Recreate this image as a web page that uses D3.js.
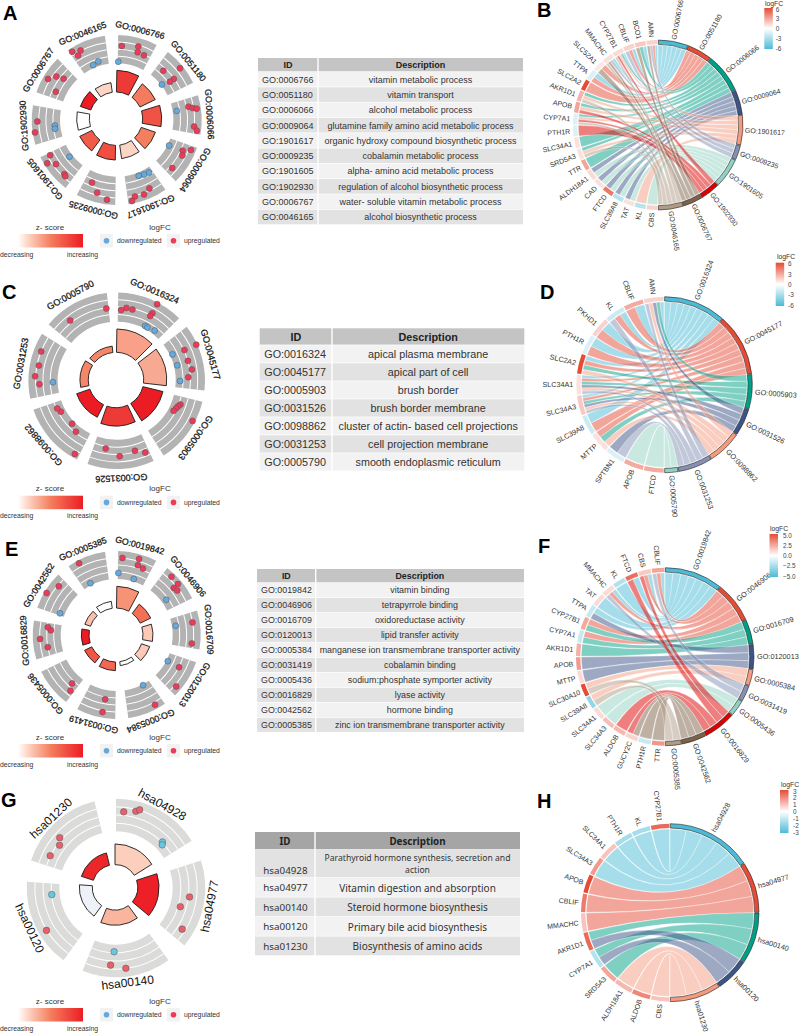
<!DOCTYPE html>
<html><head><meta charset="utf-8">
<script src="https://cdn.jsdelivr.net/npm/d3@7"></script>
<style>html,body{margin:0;padding:0;background:#fff}svg{display:block}text{font-family:"Liberation Sans",Arial,sans-serif}</style>
</head><body><div id="c"></div>
<script>
// ---------- DATA ----------
const npgPalette=["#4DBBD5","#E64B35","#00A087","#3C5488","#F39B7F","#8491B4","#91D1C2","#DC0000","#7E6148","#B09C85"];

// Circle panels: terms, bar height value, z-score, points [position in term 0-1, ring value, downregulated flag]
const circleATerms=["GO:0006766","GO:0051180","GO:0006066","GO:0009064","GO:1901617","GO:0009235","GO:1901605","GO:1902930","GO:0006767","GO:0046165"];
const circleABars=[65,51,57,45,41,44,41,38,33,29];
const circleAZ=[.85,.52,.72,.5,.15,.75,.68,0,1,.15];
const circleAPoints=[
 [[.11,1.4],[.57,2.4],[.6,0],[.81,-.3],[.02,-5.3,1]],
 [[.51,4.6],[.24,-1.3],[.64,-.2],[.64,-2.2],[.55,-5.7,1]],
 [[.24,.9],[.3,2.6],[.33,4.2],[.31,-4.3,1],[.81,2.9],[.91,4.2]],
 [[.26,-5.3,1],[.11,3.9],[.22,.8],[.35,1.6],[.81,1.1]],
 [[.13,-3.9,1],[.31,-4.2,1],[.5,-4.6,1],[.35,2.1],[.55,3.6],[.8,3.3],[.9,4.9]],
 [[.22,4],[.52,1.9],[.76,-1.5]],
 [[.56,-4.7,1],[.26,1.9],[.2,2.3],[.63,1.8],[.78,4.7],[.93,1.9]],
 [[.44,-3.7,1],[.33,-3.6,1],[.31,5],[.59,3.6]],
 [[.22,-1.6],[.44,3.9],[.62,1.5],[.7,-1.5]],
 [[.44,-4.7,1],[.65,-4,1],[.07,4.5],[.15,1.8],[.28,3.2]]];

const circleCTerms=["GO:0016324","GO:0045177","GO:0005903","GO:0031526","GO:0098862","GO:0031253","GO:0005790"];
const circleCBars=[70,69,62,55,42,25,19];
const circleCZ=[.36,.33,1,.85,1,.47,.47];
const circleCPoints=[
 [[.61,5.3],[.06,-1.2],[.15,-.1],[.26,-.3],[.61,1.1],[.6,-.3],[.6,-4.9,1],[.66,-5,1],[.82,-4.4,1]],
 [[.3,5.6],[.3,.3],[.28,-4.9,1],[.5,.1],[.53,-4.6,1],[.66,1],[.79,-.8],[.86,-4.2,1]],
 [[.15,-2.3],[.2,-2.9],[.25,-3.3],[.32,-3.8],[.32,5]],
 [[.07,1.5],[.23,-.5],[.51,.8],[.77,-2]],
 [[.07,4.4],[.27,-3.4],[.44,-4.8],[.78,-4],[.87,-3.3]],
 [[.21,1.5],[.34,3.3],[.24,-4,1],[.52,2.3],[.75,3]],
 [[.29,1],[.96,-.3]]];

const circleETerms=["GO:0019842","GO:0046906","GO:0016709","GO:0120013","GO:0005384","GO:0031419","GO:0005436","GO:0016829","GO:0042562","GO:0005385"];
const circleEBars=[65,35,30,26,12,26,24,23,18,21];
const circleEZ=[.42,.58,.2,.2,0,.62,.7,1,.24,0];
const circleEPoints=[
 [[.12,3.1],[.57,4],[.59,1.2],[.76,.6],[.02,-3.4,1],[.59,-4.9,1]],
 [[.23,4.3],[.49,4.1],[.5,1.7],[.62,2.2],[.65,-3.9,1]],
 [[.28,2.9],[.3,-4.4,1],[.87,2.4]],
 [[.3,-5.4,1],[.31,.1],[.81,3.7]],
 [[.27,-5.7,1],[.23,4.1]],
 [[.34,-2],[.35,3.6]],
 [[.21,-1.8],[.1,1]],
 [[.26,0],[.52,2.9],[.78,-1.7],[.87,-.3]],
 [[.07,-4,1],[.44,5],[.78,2.4]],
 [[.3,-5.1,1],[.27,4.7]]];

const circleGTerms=["hsa04928","hsa04977","hsa00140","hsa00120","hsa01230"];
const circleGBars=[62,64,46,39,38];
const circleGZ=[.18,.98,.28,-.07,.95];
const circleGPoints=[
 [[.1,1.3],[.25,2.3],[.29,3.2],[.78,-2.8,1],[.81,-3.6,1]],
 [[.43,.4],[.59,-2.2],[.86,1.8]],
 [[.5,2.9],[.69,1.6],[.65,-3.4,1]],
 [[.39,3.1],[.83,-3.1,1]],
 [[.14,.1],[.33,-.8],[.41,.9]]];

// Tables
const tableADesc=["vitamin metabolic process","vitamin transport","alcohol metabolic process","glutamine family amino acid metabolic process","organic hydroxy compound biosynthetic process","cobalamin metabolic process","alpha- amino acid metabolic process","regulation of alcohol biosynthetic process","water- soluble vitamin metabolic process","alcohol biosynthetic process"];
const tableCDesc=["apical plasma membrane","apical part of cell","brush border","brush border membrane","cluster of actin- based cell projections","cell projection membrane","smooth endoplasmic reticulum"];
const tableEDesc=["vitamin binding","tetrapyrrole binding","oxidoreductase activity","lipid transfer activity","manganese ion transmembrane transporter activity","cobalamin binding","sodium:phosphate symporter activity","lyase activity","hormone binding","zinc ion transmembrane transporter activity"];
const tableGDesc=[["Parathyroid hormone synthesis, secretion and","action"],["Vitamin digestion and absorption"],["Steroid hormone biosynthesis"],["Primary bile acid biosynthesis"],["Biosynthesis of amino acids"]];

// Chord panels
const chordBGenes=["AMN","BCO1","CBLIF","CYP27B1","MMACHC","SLC52A1","TTPA","SLC2A2","AKR1D1","APOB","CYP7A1","PTH1R","SLC34A1","SRD5A3","TTR","ALDH18A1","CAD","FTCD","SLC39A8","TAT","KL","CBS"];
const chordBFC=[1.5,1.8,1.5,1.2,1,.8,-1.2,6,2.5,3,-1.2,-1.2,1,1,3,1.2,1,4.5,-2.5,1,-2.5,1.5];
const chordBLinks=[
 ["AMN","BCO1","CBLIF","CYP27B1","MMACHC","TTPA"],
 ["AMN","CBLIF","SLC52A1","TTPA","SLC2A2"],
 ["BCO1","CYP27B1","AKR1D1","APOB","CYP7A1","SLC34A1","SRD5A3","TTR"],
 ["ALDH18A1","CAD","FTCD","SLC39A8","TAT"],
 ["CYP27B1","AKR1D1","APOB","CYP7A1","SRD5A3","KL"],
 ["AMN","CBLIF","MMACHC"],
 ["ALDH18A1","CAD","FTCD","SLC39A8","TAT","CBS"],
 ["CYP27B1","APOB","CYP7A1","PTH1R"],
 ["AMN","BCO1","MMACHC","SLC52A1"],
 ["CYP27B1","MMACHC","AKR1D1","CYP7A1","SRD5A3"]];

const chordDGenes=["AMN","CBLIF","KL","PKHD1","PTH1R","SLC2A2","SLC34A1","SLC34A3","SLC39A8","MTTP","SPTBN1","APOB","FTCD"];
const chordDFC=[1.5,2.8,-1.8,1.5,-1.2,6,1,1.8,-1.8,1,-1.2,2.8,2.8];
const chordDLinks=[
 ["AMN","CBLIF","KL","PKHD1","PTH1R","SLC2A2","SLC34A1","SLC34A3","SLC39A8"],
 ["CBLIF","KL","PKHD1","PTH1R","SLC2A2","SLC34A1","SLC34A3","SLC39A8","MTTP"],
 ["AMN","SLC2A2","SLC34A1","SLC34A3","MTTP"],
 ["AMN","SLC34A1","SLC34A3","SPTBN1"],
 ["AMN","SLC2A2","SLC34A1","SLC34A3","MTTP"],
 ["AMN","KL","SLC34A1","SLC34A3","SPTBN1"],
 ["APOB","FTCD"]];

const chordFGenes=["CBLIF","CBS","FTCD","KL","MMACHC","TAT","TTPA","CYP27B1","CYP7A1","AKR1D1","APOB","MTTP","SLC30A10","SLC39A8","SLC34A1","SLC34A3","ALDOB","GUCY2C","PTH1R","TTR"];
const chordFFC=[2.5,1.5,4,-2.2,1,1,-1.6,2.4,-1.6,2.2,2.8,1,5,-3,1,1.8,2,1.2,-1.6,2.9];
const chordFLinks=[
 ["CBLIF","CBS","FTCD","KL","MMACHC","TAT","TTPA"],
 ["CBLIF","CBS","MMACHC","CYP27B1","CYP7A1"],
 ["CYP27B1","CYP7A1","AKR1D1"],
 ["TTPA","APOB","MTTP"],
 ["SLC30A10","SLC39A8"],
 ["CBLIF","MMACHC"],
 ["SLC34A1","SLC34A3"],
 ["CBS","FTCD","ALDOB","GUCY2C"],
 ["GUCY2C","PTH1R","TTR"],
 ["SLC30A10","SLC39A8"]];

const chordHGenes=["CYP27B1","KL","PTH1R","SLC34A1","SLC34A3","APOB","CBLIF","MMACHC","AKR1D1","CYP7A1","SRD5A3","ALDH18A1","ALDOB","CBS"];
const chordHFC=[2.5,-1.5,-1.5,1,1.7,3,2.2,1,2.5,-1.3,1.5,1.2,2,1];
const chordHLinks=[
 ["CYP27B1","KL","PTH1R","SLC34A1","SLC34A3"],
 ["APOB","CBLIF","MMACHC"],
 ["AKR1D1","CYP7A1","SRD5A3"],
 ["AKR1D1","CYP7A1"],
 ["ALDH18A1","ALDOB","CBS"]];

const barTicksB=[6,3,0,-3,-6];
const barTicksF=[5,2.5,0,-2.5,-5];
const barTicksH=[3,2,1,0,-1,-2,-3];

// ---------- DRAW ----------
const W=800,H=1033,rad=Math.PI/180;
const svg=d3.select("#c").append("svg").attr("width",W).attr("height",H);
const defs=svg.append("defs");

const zStops=[[-.1,"#e6ebf3"],[0,"#ffffff"],[.15,"#fdd5c5"],[.5,"#f47f5f"],[1,"#ec1c24"]];
const zColor=d3.scaleLinear().domain(zStops.map(d=>d[0])).range(zStops.map(d=>d[1]));
const zg=defs.append("linearGradient").attr("id","zgrad");
zStops.slice(1).forEach(d=>zg.append("stop").attr("offset",d[0]).attr("stop-color",d[1]));
const cg=defs.append("linearGradient").attr("id","fcgrad").attr("x1",0).attr("x2",0).attr("y1",0).attr("y2",1);
[[0,"#E64B35"],[.5,"#ffffff"],[1,"#4DBBD5"]].forEach(d=>cg.append("stop").attr("offset",d[0]).attr("stop-color",d[1]));

const arc=d3.arc();
function goCircle(o){
  const g=svg.append("g").attr("transform",`translate(${o.cx},${o.cy})`);
  const n=o.terms.length, step=360/n;
  const r=d3.scaleLinear().domain([-6,6]).range([o.rIn,o.rOut]);
  const bar=d3.scaleLinear().domain([0,65]).range([o.hole,o.hole+65/3]);
  const startOf=i=>step*i+o.start, endOf=i=>startOf(i)+o.width;
  o.terms.forEach((t,i)=>{
    const s=startOf(i)*rad,e=endOf(i)*rad;
    g.append("path").attr("d",arc({innerRadius:o.rIn,outerRadius:o.rOut,startAngle:s,endAngle:e})).attr("fill",o.grey);
    [-3,0,3].forEach(k=>g.append("path").attr("d",arc({innerRadius:r(k)-.5,outerRadius:r(k)+.5,startAngle:s,endAngle:e})).attr("fill","#fff"));
    g.append("path").attr("transform",`translate(${o.bx},${o.by})`)
     .attr("d",arc({innerRadius:o.hole,outerRadius:bar(o.bars[i]),startAngle:s,endAngle:e}))
     .attr("fill",zColor(o.z[i])).attr("stroke","#1a1a1a").attr("stroke-width",.9);
    const mid=(startOf(i)+endOf(i))/2;
    let rot=mid;
    if(o.flip&&mid>90&&mid<270) rot=mid-180;
    const a=mid*rad, lr=o.rOut+o.labelGap;
    g.append("text").text(t).attr("transform",`translate(${lr*Math.sin(a)},${-lr*Math.cos(a)}) rotate(${rot})`)
     .attr("text-anchor","middle").attr("dominant-baseline","central")
     .attr("font-size",o.labelSize).attr("fill","#111").attr("stroke",o.flip?"none":"#111").attr("stroke-width",.25);
    const pos=d3.scaleLinear().domain([0,1]).range([startOf(i),endOf(i)]);
    o.points[i].forEach(p=>{
      const ang=pos(p[0])*rad,rr=r(p[1]);
      g.append("circle").attr("cx",rr*Math.sin(ang)).attr("cy",-rr*Math.cos(ang)).attr("r",o.dot)
       .attr("fill",p[2]?o.down:o.up).attr("stroke",o.dotStroke).attr("stroke-width",.5);
    });
  });
}
function circleLegend(y){
  const g=svg.append("g");
  g.append("text").text("z- score").attr("x",50).attr("y",y-4.5).attr("text-anchor","middle").attr("font-size",8).attr("fill","#333");
  g.append("rect").attr("x",18).attr("y",y).attr("width",65).attr("height",13.5).attr("fill","url(#zgrad)");
  g.append("text").text("decreasing").attr("x",0).attr("y",y+22.5).attr("font-size",6.8).attr("fill","#333");
  g.append("text").text("increasing").attr("x",67).attr("y",y+22.5).attr("font-size",6.8).attr("fill","#333");
  g.append("text").text("logFC").attr("x",160).attr("y",y-4.5).attr("text-anchor","middle").attr("font-size",8).attr("fill","#333");
  [[100,"#65a9dd","downregulated",117],[167,"#ec3b5a","upregulated",184]].forEach(d=>{
    g.append("rect").attr("x",d[0]).attr("y",y).attr("width",13).attr("height",13.5).attr("fill","#f2f2f2");
    g.append("circle").attr("cx",d[0]+6.5).attr("cy",y+6.7).attr("r",2.8).attr("fill",d[1]);
    g.append("text").text(d[2]).attr("x",d[3]).attr("y",y+9).attr("font-size",6.8).attr("fill","#333");
  });
}
function chord(o){
  const g=svg.append("g").attr("transform",`translate(${o.cx},${o.cy})`);
  const total=d3.sum(o.links,d=>d.length), unit=180/total, gw=180/o.genes.length, R=o.R, ring=4.3, gap=.25;
  const fc=d3.scaleLinear().domain([-o.max,0,o.max]).range(["#4DBBD5","#ffffff","#E64B35"]);
  const ribbon=d3.ribbon().radius(R-ring-1);
  let a=0; const termArc=o.links.map(l=>{const s=a;a+=l.length*unit;return [s,a];});
  const geneLinks=o.genes.map(gn=>o.links.map((l,i)=>l.includes(gn)?i:-1).filter(i=>i>=0));
  const rib=g.append("g");
  o.links.forEach((l,t)=>{
    const ordered=l.slice().sort((x,y)=>o.genes.indexOf(x)-o.genes.indexOf(y));
    ordered.forEach((gn,k)=>{
      const gi=o.genes.indexOf(gn), gl=geneLinks[gi], m=gl.length, q=gl.indexOf(t);
      const top=360-gi*gw-gap, w=(gw-2*gap)/m;
      const s={startAngle:(top-(q+1)*w)*rad,endAngle:(top-q*w)*rad};
      const e={startAngle:(termArc[t][0]+k*unit)*rad,endAngle:(termArc[t][0]+(k+1)*unit)*rad};
      rib.append("path").attr("d",ribbon({source:s,target:e}))
       .attr("fill",npgPalette[t]).attr("fill-opacity",.5).attr("stroke","#fff").attr("stroke-width",.35);
    });
  });
  o.terms.forEach((t,i)=>{
    g.append("path").attr("d",arc({innerRadius:R-ring,outerRadius:R,startAngle:(termArc[i][0]+gap)*rad,endAngle:(termArc[i][1]-gap)*rad}))
     .attr("fill",npgPalette[i]).attr("stroke","#222").attr("stroke-width",.6);
    const m=(termArc[i][0]+termArc[i][1])/2;
    g.append("text").text(t).attr("transform",`rotate(${m-90}) translate(${R+(o.termGap||3)},0)`).attr("dominant-baseline","central")
     .attr("font-size",o.termSize).attr("fill","#333");
  });
  o.genes.forEach((gn,i)=>{
    const s=360-(i+1)*gw, e=360-i*gw, m=(s+e)/2;
    g.append("path").attr("d",arc({innerRadius:R-ring,outerRadius:R,startAngle:(s+gap*1.5)*rad,endAngle:(e-gap*1.5)*rad})).attr("fill",fc(o.fc[i]));
    g.append("text").text(gn).attr("transform",`rotate(${m+90}) translate(${-(R+3)},0)`).attr("text-anchor","end").attr("dominant-baseline","central")
     .attr("font-size",o.geneSize).attr("fill","#333");
  });
}
function colorBar(o){
  const g=svg.append("g");
  g.append("text").text("logFC").attr("x",o.tx).attr("y",o.ty).attr("text-anchor","middle").attr("font-size",6.8).attr("fill","#333");
  g.append("rect").attr("x",o.x).attr("y",o.y0).attr("width",8.5).attr("height",o.y1-o.y0).attr("fill","url(#fcgrad)");
  const s=d3.scaleLinear().domain([o.ticks[0],o.ticks[o.ticks.length-1]]).range([o.y0+1,o.y1-1]);
  o.ticks.forEach(t=>g.append("text").text(o.fmt?d3.format(".1f")(t):t).attr("x",o.lx).attr("y",s(t)).attr("dominant-baseline","central").attr("font-size",6.4).attr("fill","#444"));
}
function table(o){
  const g=svg.append("g");
  const rows=o.ids.length;
  const rowY=d3.scaleLinear().domain([0,rows]).range([o.y1,o.y2]);
  const yOf=i=>o.rowTops?o.rowTops[i]:rowY(i);
  const label=(sel)=>{ if(o.font) sel.style("font-family",o.font); return sel; };
  g.append("rect").attr("x",o.x0).attr("y",o.y0).attr("width",o.split-o.x0-.7).attr("height",o.y1-o.y0-.7).attr("fill",o.head);
  g.append("rect").attr("x",o.split+.7).attr("y",o.y0).attr("width",o.x1-o.split-.7).attr("height",o.y1-o.y0-.7).attr("fill",o.head);
  [["ID",(o.x0+o.split)/2],["Description",(o.split+o.x1)/2]].forEach(d=>
    label(g.append("text").text(d[0]).attr("x",d[1]).attr("y",(o.y0+o.y1)/2).attr("text-anchor","middle").attr("dominant-baseline","central")
     .attr("font-size",o.size).attr("font-weight","bold").attr("fill","#222")));
  o.ids.forEach((id,i)=>{
    const top=yOf(i),bot=i<rows-1?yOf(i+1):o.y2,c=i%2==o.oddDark?"#e2e2e2":"#f2f2f2";
    g.append("rect").attr("x",o.x0).attr("y",top).attr("width",o.split-o.x0-.7).attr("height",bot-top-.7).attr("fill",c);
    g.append("rect").attr("x",o.split+.7).attr("y",top).attr("width",o.x1-o.split-.7).attr("height",bot-top-.7).attr("fill",c);
    const lines=[].concat(o.desc[i]);
    const lastLineY=(top+bot)/2+(lines.length>1?(lines.length-1)*o.size*.62:0);
    label(g.append("text").text(id).attr("x",o.idx).attr("y",lastLineY).attr("dominant-baseline","central").attr("font-size",o.size).attr("fill","#333"));
    const ds=lines.length>1&&o.wrapSize?o.wrapSize:(o.descSize||o.size);
    lines.forEach((ln,k)=>label(g.append("text").text(ln).attr("x",(o.split+o.x1)/2)
      .attr("y",(top+bot)/2+(k-(lines.length-1)/2)*o.size*1.25).attr("text-anchor","middle").attr("dominant-baseline","central")
      .attr("font-size",ds).attr("fill","#333")));
  });
}

goCircle({cx:116.7,cy:120,bx:-.7,by:-1.3,rIn:56.7,rOut:85,hole:26.7,start:1,width:27,grey:"#b3b3b3",labelGap:8,labelSize:8.8,dot:3,up:"#ec3b5a",down:"#65a9dd",dotStroke:"#555",
  terms:circleATerms,bars:circleABars,z:circleAZ,points:circleAPoints});
goCircle({cx:116.7,cy:380.7,bx:-.7,by:-.7,rIn:59,rOut:88.3,hole:27.7,start:1,width:44,grey:"#b3b3b3",labelGap:9,labelSize:9.1,dot:3,up:"#ec3b5a",down:"#65a9dd",dotStroke:"#555",
  terms:circleCTerms,bars:circleCBars,z:circleCZ,points:circleCPoints});
goCircle({cx:116.7,cy:635,bx:-.7,by:0,rIn:56,rOut:84,hole:27,start:1,width:27,grey:"#b3b3b3",labelGap:8.5,labelSize:8.8,dot:3,up:"#ec3b5a",down:"#65a9dd",dotStroke:"#555",
  terms:circleETerms,bars:circleEBars,z:circleEZ,points:circleEPoints});
goCircle({cx:116,cy:888,bx:-1,by:-.7,rIn:56.7,rOut:89.3,hole:22.7,start:0,width:58,grey:"#dbdbda",labelGap:6,labelSize:12,dot:3.3,up:"#e9606a",down:"#68c6de",dotStroke:"#555",flip:true,
  terms:circleGTerms,bars:circleGBars,z:circleGZ,points:circleGPoints});
[234,495.7,744,1008].forEach(circleLegend);

table({x0:258,x1:523,split:318,y0:58,y1:72,y2:225,idx:262,size:9,descSize:9,head:"#c4c4c4",oddDark:1,ids:circleATerms,desc:tableADesc});
table({x0:259.7,x1:524.3,split:332,y0:328.3,y1:345.3,y2:471.3,idx:264.3,size:10.8,descSize:10.75,head:"#c4c4c4",oddDark:1,ids:circleCTerms,desc:tableCDesc});
table({x0:257,x1:524,split:315.7,y0:569,y1:583,y2:732.7,idx:261,size:8.9,descSize:8.9,head:"#c4c4c4",oddDark:1,ids:circleETerms,desc:tableEDesc});
table({x0:255,x1:520,split:315,y0:832,y1:850,y2:956,rowTops:[850,878,897.5,917,936.5],idx:263.3,size:9.8,descSize:10,wrapSize:8.6,font:"'Noto Sans'",head:"#a5a5a5",oddDark:0,ids:circleGTerms,desc:tableGDesc});

chord({cx:658,cy:125,R:85,max:6,termSize:7,termGap:2,geneSize:7,terms:circleATerms,genes:chordBGenes,fc:chordBFC,links:chordBLinks});
chord({cx:664.3,cy:384.7,R:88,max:6,termSize:7.3,geneSize:7.2,terms:circleCTerms,genes:chordDGenes,fc:chordDFC,links:chordDLinks});
chord({cx:665,cy:656.7,R:89,max:5,termSize:7.3,geneSize:7,terms:circleETerms,genes:chordFGenes,fc:chordFFC,links:chordFLinks});
chord({cx:670,cy:912.7,R:89,max:3,termSize:7.3,geneSize:7,terms:circleGTerms,genes:chordHGenes,fc:chordHFC,links:chordHLinks});

colorBar({tx:774,ty:6,x:764.3,y0:8,y1:49,lx:775.7,ticks:barTicksB});
colorBar({tx:786,ty:259,x:775.7,y0:262.7,y1:306,lx:788,ticks:barTicksB});
colorBar({tx:779,ty:531,x:769.5,y0:534,y1:577,lx:783,ticks:barTicksF,fmt:true});
colorBar({tx:790,ty:787,x:780,y0:790,y1:833,lx:793,ticks:barTicksH});

[["A",3,20],["B",537,17],["C",2,299],["D",540,299],["E",5,556],["F",538,553],["G",1,807],["H",537,808]].forEach(d=>
  svg.append("text").text(d[0]).attr("x",d[1]).attr("y",d[2]).attr("font-size",20).attr("font-weight","bold").attr("fill","#000"));
</script></body></html>
